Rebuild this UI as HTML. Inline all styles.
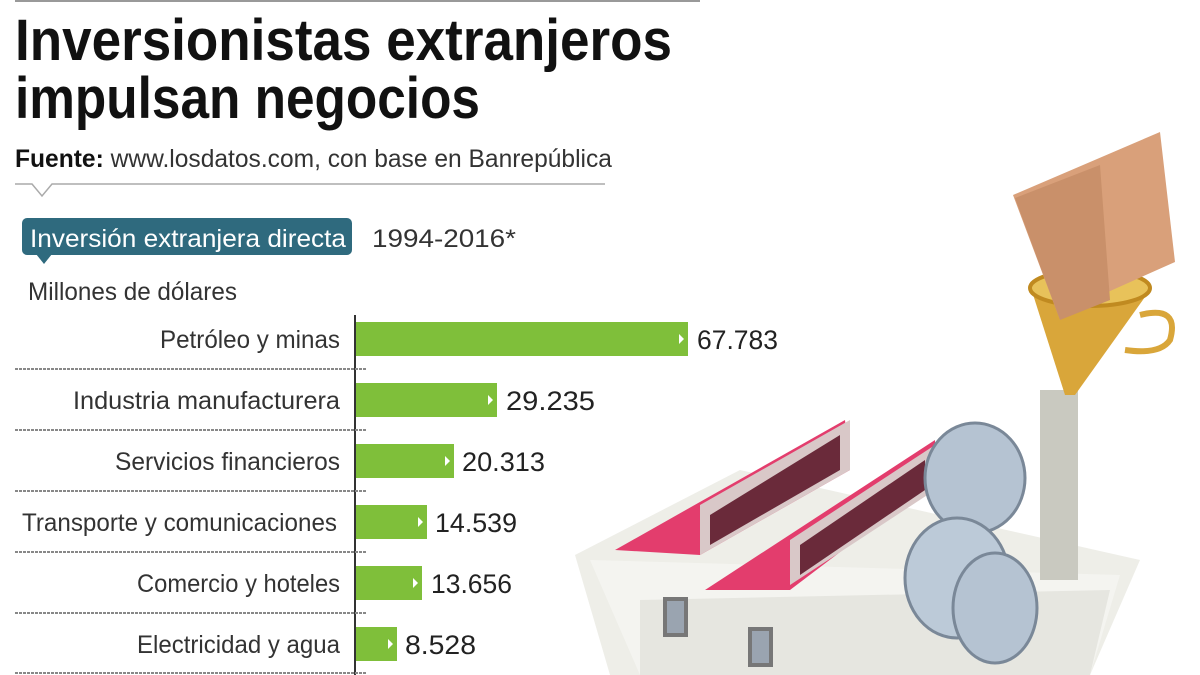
<!DOCTYPE html>
<html><head><meta charset="utf-8"><style>
html,body{margin:0;padding:0;background:#fff;}
svg{display:block;}
text{font-family:"Liberation Sans",sans-serif;}
</style></head><body>
<svg width="1200" height="675" viewBox="0 0 1200 675" xmlns="http://www.w3.org/2000/svg">
<rect width="1200" height="675" fill="#fff"/>
<line x1="15" y1="1" x2="700" y2="1" stroke="#999" stroke-width="2"/>
<text x="15" y="60" font-size="58" font-weight="bold" fill="#111" textLength="657" lengthAdjust="spacingAndGlyphs">Inversionistas extranjeros</text>
<text x="15" y="118" font-size="58" font-weight="bold" fill="#111" textLength="465" lengthAdjust="spacingAndGlyphs">impulsan negocios</text>
<text x="15" y="167" font-size="25" fill="#333" textLength="597" lengthAdjust="spacingAndGlyphs"><tspan font-weight="bold" fill="#111">Fuente:</tspan> www.losdatos.com, con base en Banrepública</text>
<polyline points="15,184 32,184 42,196 52,184 605,184" fill="none" stroke="#aaa" stroke-width="1.5"/>
<rect x="22" y="218" width="330" height="37" rx="5" fill="#2f6a7e"/>
<polygon points="36,254 52,254 44,264" fill="#2f6a7e"/>
<text x="30" y="247" font-size="25" fill="#fff" textLength="316" lengthAdjust="spacingAndGlyphs">Inversión extranjera directa</text>
<text x="372" y="247" font-size="25" fill="#333" textLength="144" lengthAdjust="spacingAndGlyphs">1994-2016*</text>
<text x="28" y="300" font-size="25" fill="#333" textLength="209" lengthAdjust="spacingAndGlyphs">Millones de dólares</text>
<line x1="355" y1="315" x2="355" y2="675" stroke="#333" stroke-width="2"/>
<g stroke="#888" stroke-width="2" stroke-dasharray="3,1">
<line x1="15" y1="369" x2="366" y2="369"/><line x1="15" y1="430" x2="366" y2="430"/>
<line x1="15" y1="491" x2="366" y2="491"/><line x1="15" y1="552" x2="366" y2="552"/>
<line x1="15" y1="613" x2="366" y2="613"/><line x1="15" y1="673" x2="366" y2="673"/>
</g>
<g fill="#7fbf3a">
<rect x="356" y="322" width="332" height="34"/>
<rect x="356" y="383" width="141" height="34"/>
<rect x="356" y="444" width="98" height="34"/>
<rect x="356" y="505" width="71" height="34"/>
<rect x="356" y="566" width="66" height="34"/>
<rect x="356" y="627" width="41" height="34"/>
</g>
<g fill="#fff">
<polygon points="679,334 684,339 679,344"/><polygon points="488,395 493,400 488,405"/>
<polygon points="445,456 450,461 445,466"/><polygon points="418,517 423,522 418,527"/>
<polygon points="413,578 418,583 413,588"/><polygon points="388,639 393,644 388,649"/>
</g>
<g font-size="25" fill="#333" text-anchor="end">
<text x="340" y="348" textLength="180" lengthAdjust="spacingAndGlyphs">Petróleo y minas</text>
<text x="340" y="409" textLength="267" lengthAdjust="spacingAndGlyphs">Industria manufacturera</text>
<text x="340" y="470" textLength="225" lengthAdjust="spacingAndGlyphs">Servicios financieros</text>
<text x="337" y="531" textLength="315" lengthAdjust="spacingAndGlyphs">Transporte y comunicaciones</text>
<text x="340" y="592" textLength="203" lengthAdjust="spacingAndGlyphs">Comercio y hoteles</text>
<text x="340" y="653" textLength="203" lengthAdjust="spacingAndGlyphs">Electricidad y agua</text>
</g>
<g font-size="27" fill="#222">
<text x="697" y="349" textLength="81" lengthAdjust="spacingAndGlyphs">67.783</text>
<text x="506" y="410" textLength="89" lengthAdjust="spacingAndGlyphs">29.235</text>
<text x="462" y="471" textLength="83" lengthAdjust="spacingAndGlyphs">20.313</text>
<text x="435" y="532" textLength="82" lengthAdjust="spacingAndGlyphs">14.539</text>
<text x="431" y="593" textLength="81" lengthAdjust="spacingAndGlyphs">13.656</text>
<text x="405" y="654" textLength="71" lengthAdjust="spacingAndGlyphs">8.528</text>
</g>
<!-- illustration -->
<polygon points="575,555 740,470 1140,560 1090,675 610,675" fill="#eeeee8"/>
<polygon points="590,560 1120,575 1090,675 640,675" fill="#f4f4f0"/>
<polygon points="640,600 1110,590 1090,675 640,675" fill="#e6e6e0"/>
<polygon points="615,550 845,420 850,470 700,555" fill="#e33d6d"/>
<polygon points="700,555 850,470 850,420 700,505" fill="#d9c8c8"/>
<polygon points="710,545 840,470 840,435 710,515" fill="#6a2a3a"/>
<polygon points="705,590 935,440 935,480 790,590" fill="#e33d6d"/>
<polygon points="790,585 935,490 935,445 790,540" fill="#d9c8c8"/>
<polygon points="800,575 925,490 925,460 800,545" fill="#6a2a3a"/>
<rect x="663" y="597" width="25" height="40" fill="#777"/><rect x="667" y="601" width="17" height="32" fill="#9aa4b0"/>
<rect x="748" y="627" width="25" height="40" fill="#777"/><rect x="752" y="631" width="17" height="32" fill="#9aa4b0"/>
<rect x="1040" y="390" width="38" height="190" fill="#c9c9c0"/>
<ellipse cx="975" cy="478" rx="50" ry="55" fill="#b5c3d2" stroke="#7a8898" stroke-width="3"/>
<ellipse cx="957" cy="578" rx="52" ry="60" fill="#bccad8" stroke="#7a8898" stroke-width="3"/>
<ellipse cx="995" cy="608" rx="42" ry="55" fill="#b5c3d2" stroke="#7a8898" stroke-width="3"/>
<polygon points="1030,285 1150,290 1075,395 1065,395" fill="#d9a63a"/>
<ellipse cx="1090" cy="288" rx="60" ry="18" fill="#e8c25a" stroke="#c08a20" stroke-width="4"/>
<path d="M1140,315 q40,-10 30,25 q-10,15 -45,10" fill="none" stroke="#d9a63a" stroke-width="6"/>
<polygon points="1013,195 1160,132 1175,262 1090,300 1060,320" fill="#d9a07a"/>
<polygon points="1015,198 1100,165 1110,300 1060,320" fill="#c9906a"/>
</svg>
</body></html>
